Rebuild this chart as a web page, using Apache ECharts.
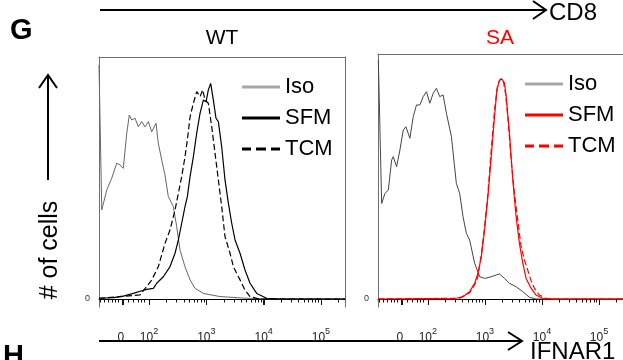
<!DOCTYPE html>
<html>
<head>
<meta charset="utf-8">
<script src="https://cdn.jsdelivr.net/npm/echarts@6/dist/echarts.min.js"></script>
<style>html,body{margin:0;padding:0;background:#fff}#c{width:623px;height:360px}</style>
</head>
<body>
<div id="c"></div>
<script>
// x values are in display decades of the biexponential axis (10^2 -> 2, 10^3 -> 3 ...), y = % of panel max
const xMin = 1.127, xMax = 5.42;
const tickLabelPos = [1.51, 2, 3, 4, 5];
const tickLabels = ['0', '2', '3', '4', '5']; // '0' or exponent of 10
const majorTicks = [1.54, 2, 3, 4, 5];
const linearMinorTicks = [1.145, 1.215, 1.279, 1.349, 1.407, 1.459, 1.634, 1.721, 1.803, 1.860, 1.913];
const legendNames = ['Iso', 'SFM', 'TCM'];

const wtIso = [[1.127,96.7],[1.175,36.8],[1.262,45.0],[1.349,49.9],[1.436,56.1],[1.494,55.4],[1.551,54.0],[1.611,68.5],[1.656,76.0],[1.698,74.0],[1.756,74.7],[1.813,71.2],[1.873,73.3],[1.930,71.1],[1.988,73.3],[2.047,69.1],[2.122,72.6],[2.162,64.3],[2.222,57.4],[2.279,51.2],[2.337,42.3],[2.424,38.2],[2.483,29.9],[2.541,20.2],[2.628,13.3],[2.716,7.9],[2.803,4.4],[2.948,2.3],[3.239,1.0],[3.705,0.3],[4.054,0.1],[5.42,0]];
const wtSFM = [[1.127,0.3],[1.378,0.6],[1.552,1.2],[1.727,2.3],[1.872,3.4],[1.959,4.0],[2.076,4.4],[2.134,6.5],[2.250,9.2],[2.366,13.4],[2.454,18.9],[2.512,24.4],[2.570,31.3],[2.628,38.2],[2.669,42.3],[2.716,50.6],[2.774,58.8],[2.832,68.5],[2.890,76.7],[2.948,82.2],[2.995,81.5],[3.035,86.4],[3.076,89.1],[3.123,82.2],[3.169,74.7],[3.210,73.3],[3.268,62.9],[3.326,49.2],[3.385,39.5],[3.443,31.3],[3.501,24.4],[3.588,18.9],[3.675,12.0],[3.763,6.5],[3.879,2.3],[4.054,0.3],[4.286,0],[5.42,0]];
const wtTCM = [[1.127,0.3],[1.843,1.7],[1.959,5.1],[2.047,7.9],[2.163,13.4],[2.279,23.0],[2.366,28.5],[2.454,36.8],[2.512,43.7],[2.570,50.6],[2.628,58.8],[2.669,65.7],[2.716,75.3],[2.774,80.9],[2.832,85.7],[2.890,83.6],[2.937,86.4],[2.977,82.2],[3.035,80.9],[3.094,71.2],[3.152,60.2],[3.210,49.2],[3.268,38.2],[3.326,25.8],[3.414,18.9],[3.472,13.4],[3.530,10.6],[3.588,7.9],[3.675,3.7],[3.763,1.0],[3.937,0],[5.42,0]];

const saIso = [[1.133,97.6],[1.191,39.0],[1.250,43.1],[1.308,44.5],[1.366,56.7],[1.395,58.1],[1.453,54.0],[1.511,60.8],[1.570,69.0],[1.616,70.3],[1.686,65.6],[1.744,74.4],[1.802,79.2],[1.860,79.2],[1.919,82.6],[1.977,84.6],[2.035,79.9],[2.093,83.9],[2.151,86.0],[2.209,82.6],[2.268,83.3],[2.326,75.8],[2.413,66.3],[2.500,47.2],[2.558,43.1],[2.617,33.6],[2.675,26.8],[2.733,24.1],[2.820,14.6],[2.908,9.1],[2.995,8.4],[3.111,9.1],[3.198,9.8],[3.257,10.2],[3.344,8.4],[3.431,6.4],[3.547,5.0],[3.664,3.0],[3.780,0.7],[3.896,0],[5.42,0]];
const saSFM = [[1.127,0],[2.500,0.3],[2.617,1.0],[2.733,3.0],[2.820,6.4],[2.878,10.5],[2.937,17.3],[2.995,28.2],[3.053,41.8],[3.111,58.1],[3.169,74.4],[3.210,85.3],[3.257,89.4],[3.303,89.7],[3.344,88.0],[3.373,82.6],[3.431,67.6],[3.489,48.6],[3.547,33.6],[3.606,22.6],[3.664,14.6],[3.722,8.4],[3.809,4.4],[3.896,1.6],[4.013,0.3],[4.187,0],[5.42,0]];
const saTCM = [[1.127,0],[2.558,0.3],[2.733,2.6],[2.820,5.7],[2.878,9.1],[2.937,18.0],[2.995,29.5],[3.053,43.1],[3.111,60.8],[3.169,77.1],[3.227,88.0],[3.286,90.1],[3.326,88.7],[3.361,83.9],[3.402,74.4],[3.460,56.7],[3.518,43.1],[3.576,32.2],[3.635,21.4],[3.693,15.9],[3.751,11.8],[3.809,7.5],[3.867,4.4],[3.955,1.6],[4.071,0.3],[4.245,0],[5.42,0]];

const FONT = 'Liberation Sans';
const logMinor = [];
[2,3,4,5].forEach(k => { for (let m = 2; m <= 9; m++) { const v = k + Math.log10(m); if (v < xMax) logMinor.push(v); } });
const minorTicks = linearMinorTicks.concat(logMinor);
const tickTable = majorTicks.map(t => [t, 1]).concat(minorTicks.map(t => [t, 0]));
// y range of each panel reaches a little below 0 so the tick marks sit inside the plotting area
const yMinPanel = [-3.306, -3.265];

function mainX(gi) {
  return {
    type: 'value', gridIndex: gi, min: xMin, max: xMax, position: 'bottom',
    axisLine: { show: true, onZero: true, onZeroAxisIndex: gi, lineStyle: { color: '#000', width: 1 } },
    splitLine: { show: false },
    axisTick: { show: true, customValues: majorTicks, length: 6, inside: false, lineStyle: { color: '#111', width: 1 } },
    axisLabel: {
      show: true, customValues: tickLabelPos, margin: 20, color: '#222', fontFamily: FONT, fontSize: 12,
      formatter: function (val) {
        let i = 0, best = 1e9;
        tickLabelPos.forEach((p, j) => { if (Math.abs(p - val) < best) { best = Math.abs(p - val); i = j; } });
        const l = tickLabels[i];
        return l === '0' ? '{b|0}' : '{b|10}{s|' + l + '}';
      },
      rich: {
        b: { fontSize: 12, fontFamily: FONT, color: '#222', lineHeight: 22, verticalAlign: 'middle' },
        s: { fontSize: 9, fontFamily: FONT, color: '#222', lineHeight: 8, verticalAlign: 'top' }
      }
    }
  };
}
function topX(gi) {
  return {
    type: 'value', gridIndex: gi, min: xMin, max: xMax, position: 'top',
    axisLine: { show: true, onZero: false, lineStyle: { color: '#6e6e6e', width: 1 } },
    axisTick: { show: false }, axisLabel: { show: false }, splitLine: { show: false }
  };
}
function leftY(gi) {
  return {
    type: 'value', gridIndex: gi, min: yMinPanel[gi], max: 100, position: 'left',
    axisLine: { show: true, onZero: false, lineStyle: { color: '#6e6e6e', width: 1 } },
    axisTick: { show: false }, splitLine: { show: false },
    axisLabel: { show: true, customValues: [0], fontSize: 9, color: '#333', fontFamily: FONT, margin: 9 }
  };
}
function rightY(gi) {
  return {
    type: 'value', gridIndex: gi, min: yMinPanel[gi], max: 100, position: 'right',
    axisLine: { show: true, onZero: false, lineStyle: { color: '#6e6e6e', width: 1 } },
    axisTick: { show: false }, splitLine: { show: false }, axisLabel: { show: false }
  };
}
function line(name, data, xi, yi, color, width, dashed, z) {
  return {
    type: 'line', name: name, data: data, xAxisIndex: xi, yAxisIndex: yi,
    symbol: 'none', showSymbol: false, animation: false, z: z, silent: true,
    lineStyle: { color: color, width: width, type: dashed ? [6, 3] : 'solid' },
    itemStyle: { color: color }
  };
}
function ticks(xi, yi) {
  return {
    type: 'custom', name: legendNames[0], xAxisIndex: xi, yAxisIndex: yi, data: tickTable.slice(), clip: false, z: 20, silent: true,
    renderItem: function (params, api) {
      const p = api.coord([api.value(0), 0]);
      const len = api.value(1) ? 6 : 3.5;
      const x = Math.round(p[0]) + 0.5;
      return { type: 'line', shape: { x1: x, y1: p[1], x2: x, y2: p[1] + len }, style: { stroke: '#111', lineWidth: 1 } };
    }
  };
}
const solidIcon = 'path://M0,0h38v3h-38z';
const dashIcon = 'path://M0,0h9v3h-9z M14,0h10v3h-10z M29,0h9v3h-9z';
function legend(left, top, names, cols, sfx) {
  return {
    orient: 'vertical', left: left, top: top, itemWidth: 38, itemHeight: 3, itemGap: 7, padding: 0,
    selectedMode: false,
    textStyle: { fontSize: 22, fontFamily: FONT, color: '#000', lineHeight: 24 },
    formatter: n => n.trim(),
    data: names.map((n, i) => ({
      name: n + sfx,
      icon: i === 2 ? dashIcon : solidIcon,
      itemStyle: { color: cols[i], borderWidth: 0 }
    }))
  };
}

const chart = echarts.init(document.getElementById('c'), null, { renderer: 'canvas' });
chart.setOption({
  animation: false,
  backgroundColor: '#fff',
  grid: [
    { left: 99, top: 57, width: 246, height: 250, show: false },
    { left: 378, top: 54, width: 246, height: 253, show: false }
  ],
  xAxis: [mainX(0), mainX(1), topX(0), topX(1)],
  yAxis: [leftY(0), leftY(1), rightY(0), rightY(1)],
  legend: [
    legend(242, 75, legendNames, ['#a6a6a6', '#000', '#000'], ''),
    legend(525, 72, legendNames, ['#a6a6a6', '#ff0000', '#ff0000'], ' ')
  ],
  series: [
    line('Iso', wtIso, 0, 0, '#666', 1, false, 2),
    line('TCM', wtTCM, 0, 0, '#000', 1.2, true, 3),
    line('SFM', wtSFM, 0, 0, '#000', 1.2, false, 4),
    line('Iso ', saIso, 1, 1, '#444', 1, false, 2),
    line('TCM ', saTCM, 1, 1, '#ff0000', 1.2, true, 3),
    line('SFM ', saSFM, 1, 1, '#ff0000', 1.2, false, 4),
    ticks(0, 0),
    ticks(1, 1)
  ],
  graphic: [
    { type: 'text', x: 10, y: 16, style: { text: 'G', font: 'bold 29px ' + FONT, fill: '#000' } },
    { type: 'line', shape: { x1: 100, y1: 10, x2: 546, y2: 10 }, style: { stroke: '#000', lineWidth: 2 } },
    { type: 'polyline', shape: { points: [[533, 1], [546, 10], [533, 19]] }, style: { stroke: '#000', lineWidth: 2, fill: null } },
    { type: 'text', x: 549, y: 13, style: { text: 'CD8', font: '24px ' + FONT, fill: '#000', verticalAlign: 'middle' } },
    { type: 'text', x: 222, y: 38, style: { text: 'WT', font: '21px ' + FONT, fill: '#000', align: 'center', verticalAlign: 'middle' } },
    { type: 'text', x: 500, y: 38, style: { text: 'SA', font: '21px ' + FONT, fill: '#ff0000', align: 'center', verticalAlign: 'middle' } },
    { type: 'line', shape: { x1: 48, y1: 75, x2: 48, y2: 180 }, style: { stroke: '#000', lineWidth: 2 } },
    { type: 'polyline', shape: { points: [[39, 88], [48, 75], [57, 88]] }, style: { stroke: '#000', lineWidth: 2, fill: null } },
    { type: 'text', x: 50, y: 250, rotation: Math.PI / 2, style: { text: '# of cells', font: '25px ' + FONT, fill: '#000', align: 'center', verticalAlign: 'middle' } },
    { type: 'line', shape: { x1: 99, y1: 341, x2: 522, y2: 341 }, style: { stroke: '#000', lineWidth: 2 } },
    { type: 'polyline', shape: { points: [[508, 332], [522, 341], [508, 350]] }, style: { stroke: '#000', lineWidth: 2, fill: null } },
    { type: 'text', x: 530, y: 352, style: { text: 'IFNAR1', font: '24px ' + FONT, fill: '#000', verticalAlign: 'middle' } },
    { type: 'text', x: 3, y: 342, style: { text: 'H', font: 'bold 29px ' + FONT, fill: '#000' } }
  ]
});
</script>
</body>
</html>
